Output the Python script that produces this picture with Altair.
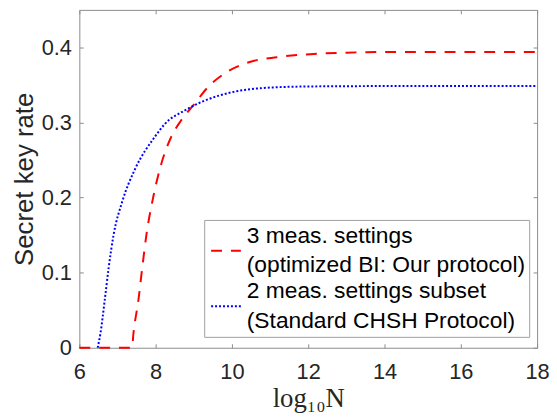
import altair as alt
import pandas as pd

# ---- data ----
series_names = ["3 meas. settings", "2 meas. settings subset"]
series_labels = {
    "3 meas. settings": ["3 meas. settings", "\u00a0(optimized BI: Our protocol)"],
    "2 meas. settings subset": ["2 meas. settings subset", "\u00a0(Standard CHSH Protocol)"],
}

red_x = [6, 7.38, 7.42, 7.55, 7.65, 7.76, 7.91, 8.11, 8.41, 8.67, 9.02, 9.37, 9.89, 10.49, 11.18, 12.05, 13, 14, 18]
red_y = [0, 0, 0.02, 0.064, 0.107, 0.151, 0.194, 0.238, 0.281, 0.303, 0.325, 0.347, 0.368, 0.381, 0.387, 0.391, 0.393, 0.394, 0.394]

blue_x = [6.48, 6.556, 6.667, 6.77, 6.9, 7.12, 7.46, 7.98, 8.24, 8.76, 9.28, 9.97, 10.84, 12, 14, 18]
blue_y = [0, 0.02, 0.064, 0.107, 0.151, 0.194, 0.238, 0.281, 0.298, 0.316, 0.329, 0.34, 0.346, 0.348, 0.3485, 0.3485]

x_ticks = [6, 8, 10, 12, 14, 16, 18]
y_ticks = [0, 0.1, 0.2, 0.3, 0.4]

rows = []
for i, (xs, ys) in enumerate([(red_x, red_y), (blue_x, blue_y)]):
    for j, (a, b) in enumerate(zip(xs, ys)):
        rows.append({"series": series_names[i], "x": a, "y": b, "order": j})
df = pd.DataFrame(rows)

label_expr = (
    "datum.label == '3 meas. settings' ? "
    + str(series_labels["3 meas. settings"])
    + " : "
    + str(series_labels["2 meas. settings subset"])
)

FRAME = "#8c8c8c"
TXT = "#262626"
SANS = "Liberation Sans, Arial, sans-serif"
LH = 30            # legend line height
SHIFT = LH / 2     # lift of multi-line labels so the symbol sits between lines

xscale = alt.Scale(domain=[6, 18], nice=False, zero=False)
yscale = alt.Scale(domain=[0, 0.45], nice=False)

legend = alt.Legend(title=None, orient="none", legendX=126, legendY=212,
                    symbolType="stroke", symbolSize=900, symbolStrokeWidth=2, symbolOffset=3,
                    labelFont=SANS, labelFontSize=23, clipHeight=56,
                    labelColor="#000000", labelLimit=0, labelOffset=5,
                    labelExpr=label_expr, rowPadding=0,
                    strokeColor="#a0a0a0", fillColor="white", padding=3)

lines = alt.Chart(df).mark_line(strokeWidth=2, interpolate="monotone", strokeCap="butt").encode(
    x=alt.X("x:Q", scale=xscale,
            axis=alt.Axis(orient="bottom", values=x_ticks, offset=-4, tickSize=4, domain=False,
                          grid=False, labelPadding=14 + SHIFT, labelFlush=False, tickColor=FRAME,
                          labelColor=TXT, labelFont=SANS, labelFontSize=22, title="log₁₀N",
                          titleFont="Liberation Serif, DejaVu Serif, serif", titleFontSize=27,
                          titleFontWeight="normal", titleColor=TXT, titlePadding=3)),
    y=alt.Y("y:Q", scale=yscale,
            axis=alt.Axis(orient="left", values=y_ticks, format="~g", offset=-4, tickSize=4,
                          domain=False, grid=False, labelPadding=8, labelFlush=False,
                          labelOffset=SHIFT,
                          tickColor=FRAME, labelColor=TXT, labelFont=SANS, labelFontSize=22,
                          title="Secret key rate", titleFont=SANS, titleFontSize=26,
                          titleFontWeight="normal", titleColor=TXT, titlePadding=4)),
    color=alt.Color("series:N", scale=alt.Scale(domain=series_names, range=["#ff0000", "#0000ff"]),
                    legend=legend),
    strokeDash=alt.StrokeDash("series:N",
                              scale=alt.Scale(domain=series_names, range=[[11, 9], [2, 2]]),
                              legend=legend),
    order="order:Q",
)

frame_axes = alt.Chart(df).mark_line(opacity=0).encode(
    x=alt.X("x:Q", scale=xscale,
            axis=alt.Axis(orient="top", values=x_ticks, offset=-4, tickSize=4, domain=False,
                          labels=False, grid=False, tickColor=FRAME, title=None)),
    y=alt.Y("y:Q", scale=yscale,
            axis=alt.Axis(orient="right", values=y_ticks, offset=-4, tickSize=4, domain=False,
                          labels=False, grid=False, tickColor=FRAME, title=None)),
    detail="series:N",
)

chart = alt.layer(lines, frame_axes).resolve_axis(x="independent", y="independent").properties(
    width=462, height=341,
    autosize=alt.AutoSizeParams(type="none"),
    padding={"left": 72, "top": 0, "right": 12, "bottom": 70},
).configure(
    background="white", style={"guide-label": {"lineHeight": LH, "dy": -SHIFT}}
).configure_view(stroke=FRAME, strokeWidth=1)

chart.save("out.html", embed_options={"renderer": "svg", "actions": False})
